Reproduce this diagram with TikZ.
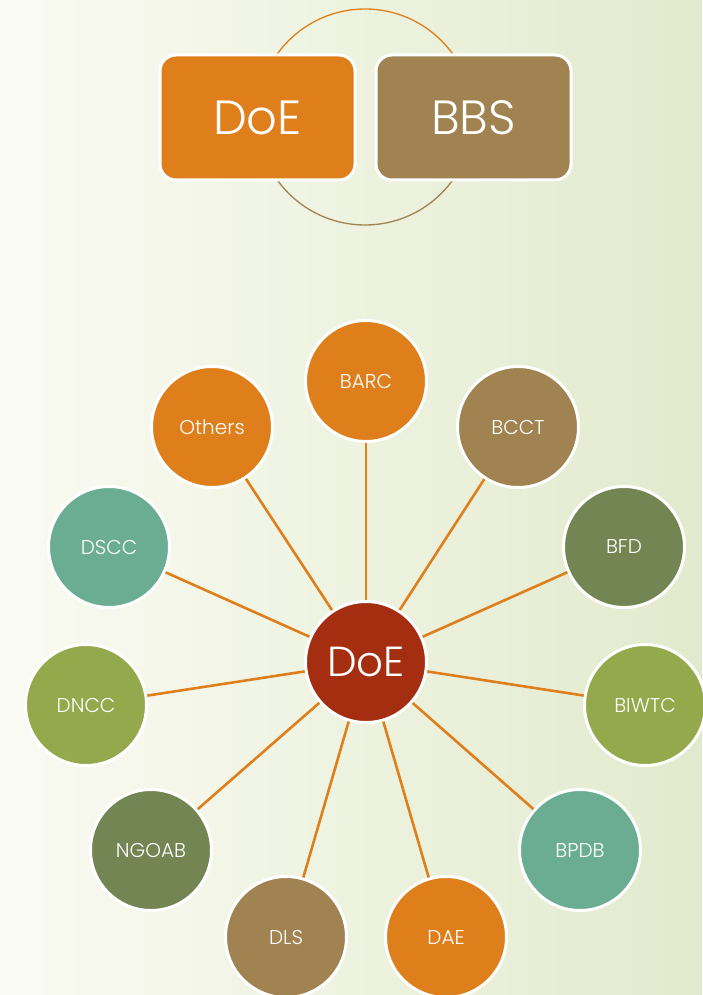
\documentclass[tikz,border=0pt]{standalone}
\usepackage{fontspec}
\newfontfamily\gfont{Poppins Light}
\usetikzlibrary{shapes.geometric}
\definecolor{corange}{RGB}{223,127,27}
\definecolor{cbrown}{RGB}{160,131,80}
\definecolor{cdgreen}{RGB}{115,133,82}
\definecolor{colive}{RGB}{148,169,76}
\definecolor{cteal}{RGB}{106,173,147}
\definecolor{cred}{RGB}{165,46,17}
\definecolor{bgleft}{RGB}{250,251,243}
\definecolor{bgright}{RGB}{226,234,205}
\tikzset{
  topbox/.style={rounded corners=16pt, draw=white, line width=3pt, minimum width=195pt, minimum height=125pt, text=white, font=\gfont\fontsize{48}{52}\selectfont},
  orb/.style={circle, draw=white, line width=3pt, minimum size=121pt, inner sep=0pt, text=white, font=\gfont\fontsize{20}{23}\selectfont},
  hub/.style={orb, fill=cred, font=\gfont\fontsize{42}{46}\selectfont},
  link/.style={draw=corange, line width=2.6pt}
}
\begin{document}
\begin{tikzpicture}[x=1pt,y=-1pt]
\shade[shading angle=80, left color=bgleft, right color=bgright] (0,0) rectangle (702,995);
\useasboundingbox (0,0) rectangle (702,995);
% ring behind top boxes
\draw[corange, line width=1.3pt] (257,117) arc[start angle=180, end angle=360, radius=108];
\draw[cbrown, line width=1.3pt] (473,117) arc[start angle=0, end angle=180, radius=108];
\node[topbox, fill=corange] (tdoe) at (257.5,117.5) {DoE};
\node[topbox, fill=cbrown] (tbbs) at (473.5,117.5) {BBS};
% hub and spokes
\node[hub] (hub) at (366,662) {DoE};
\node[orb, fill=corange] (barc) at (366,381) {BARC};
\node[orb, fill=cbrown] (bcct) at (518,427) {BCCT};
\node[orb, fill=cdgreen] (bfd) at (624,547) {BFD};
\node[orb, fill=colive] (biwtc) at (645,705) {BIWTC};
\node[orb, fill=cteal] (bpdb) at (580,850) {BPDB};
\node[orb, fill=corange] (dae) at (446,937) {DAE};
\node[orb, fill=cbrown] (dls) at (286,937) {DLS};
\node[orb, fill=cdgreen] (ngoab) at (151,850) {NGOAB};
\node[orb, fill=colive] (dncc) at (86,705) {DNCC};
\node[orb, fill=cteal] (dscc) at (109,547) {DSCC};
\node[orb, fill=corange] (others) at (212,427) {Others};
\foreach \n in {barc,bcct,bfd,biwtc,bpdb,dae,dls,ngoab,dncc,dscc,others}
  \draw[link] (hub) -- (\n);
\end{tikzpicture}
\end{document}
